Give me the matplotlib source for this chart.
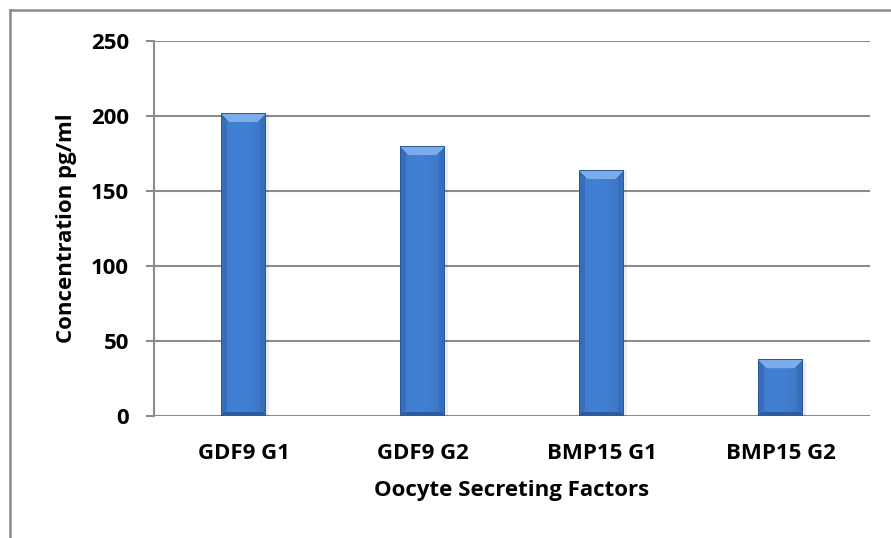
import numpy as np
import matplotlib
matplotlib.use("Agg")
import matplotlib.pyplot as plt
from matplotlib.lines import Line2D

categories = ["GDF9 G1", "GDF9 G2", "BMP15 G1", "BMP15 G2"]
concentration = [202, 180, 164, 37.5]
y_ticks = [0, 50, 100, 150, 200, 250]

plt.rcParams['font.family'] = ['Open Sans', 'DejaVu Sans']
FS = 16

W, H, DPI = 891, 538, 100
fig = plt.figure(figsize=(W / DPI, H / DPI), dpi=DPI)
ax = fig.add_axes([154 / W, 1 - 415.7 / H, (870 - 154) / W, (415.7 - 40.7) / H])

grid_col = "#8c8c8c"
x = np.arange(len(categories))
bars = ax.bar(x, concentration, width=0.25, color="#4180d2", zorder=3, linewidth=0)

ax.set_xlim(-0.5, len(categories) - 0.5)
ax.set_ylim(0, 250)
ax.set_yticks(y_ticks)
ax.yaxis.grid(True, color=grid_col, linewidth=1.5, zorder=0)
ax.set_axisbelow(True)
for s in ["top", "right", "bottom"]:
    ax.spines[s].set_visible(False)
ax.spines["left"].set_color(grid_col)
ax.spines["left"].set_linewidth(1.5)
ax.tick_params(axis="y", length=6, width=1.5, color=grid_col, pad=12,
               labelsize=FS)
ax.tick_params(axis="x", length=0, pad=20, labelsize=FS)
ax.set_xticks(x)
ax.set_xticklabels(categories, fontweight="bold")
for lbl in ax.get_yticklabels():
    lbl.set_fontweight("bold")
ax.set_ylabel("Concentration pg/ml", fontsize=FS, fontweight="bold", labelpad=10)
ax.set_xlabel("Oocyte Secreting Factors", fontsize=FS, fontweight="bold", labelpad=11)

# Bevelled, cylinder-like shading for each bar
fig.canvas.draw()
base = np.array([0x42, 0x80, 0xd4]) / 255
edge = np.array([0x2a, 0x58, 0x96]) / 255
light = np.array([0x7c, 0xac, 0xea]) / 255
side = np.array([0x37, 0x6e, 0xbb]) / 255
for b in bars:
    x0, y0 = b.get_x(), b.get_y()
    bw, bh = b.get_width(), b.get_height()
    (px0, py0), (px1, py1) = ax.transData.transform([(x0, y0), (x0 + bw, y0 + bh)])
    nx = max(int(round(px1 - px0)), 2)
    ny = max(int(round(py1 - py0)), 2)
    cols = np.arange(nx) + 0.5
    rows = np.arange(ny) + 0.5  # 0 = top
    dx = np.minimum(cols, nx - cols)[None, :]
    dy = rows[:, None]
    dyb = (ny - rows)[:, None]
    t = cols / nx
    prof = 1 - 0.55 * np.abs(t - 0.4) ** 2 * 4
    img = base[None, None, :] * (0.86 + 0.14 * prof[None, :, None])
    img = np.broadcast_to(img, (ny, nx, 3)).copy()
    bev = 9
    topzone = (dy < bev) & (dy <= dx)
    sidezone = (dx < 6) & (dx < dy) & (dx < dyb)
    botzone = (dyb < 4) & (dyb <= dx)
    img[sidezone] = side
    img[topzone] = light
    img[botzone] = edge * 1.05
    outline = (dx < 1.2) | (dy < 1.2)
    img[outline] = edge
    ax.imshow(img, extent=(x0, x0 + bw, y0, y0 + bh), aspect="auto",
              zorder=4, interpolation="bilinear", origin="upper")
    # soft shadow to the right and below
    ax.add_patch(plt.Rectangle((x0 + bw * 0.02, y0), bw * 1.04, bh,
                               facecolor="#000000", alpha=0.07, zorder=2,
                               linewidth=0))
ax.set_xlim(-0.5, len(categories) - 0.5)
ax.set_ylim(0, 250)

# Chart-area frame
border = "#8a8a8a"
fig.add_artist(Line2D([10 / W, 10 / W], [0, 1 - 10 / H], color=border, lw=1.8))
fig.add_artist(Line2D([10 / W, 1], [1 - 10 / H, 1 - 10 / H], color=border, lw=1.8))

fig.savefig("out.png", dpi=DPI)
